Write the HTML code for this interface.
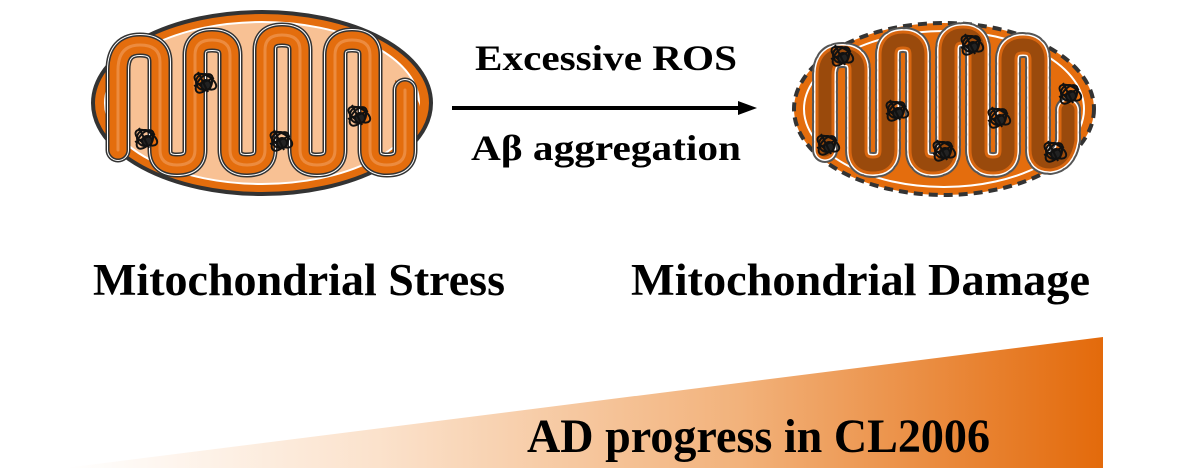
<!DOCTYPE html>
<html><head><meta charset="utf-8"><style>html,body{margin:0;padding:0;background:#fff;}svg{display:block}</style></head>
<body>
<svg width="1200" height="475" viewBox="0 0 1200 475" xmlns="http://www.w3.org/2000/svg" font-family="'Liberation Serif', serif" font-weight="bold">
<defs>
<linearGradient id="g" x1="65" y1="0" x2="1103" y2="0" gradientUnits="userSpaceOnUse">
<stop offset="0" stop-color="#fff"/><stop offset="0.3" stop-color="#fbe2cc"/><stop offset="0.65" stop-color="#f2b27b"/><stop offset="1" stop-color="#e36a0b"/></linearGradient>
<g id="blob" fill="none" stroke="#111" stroke-width="2">
<circle cx="0" cy="0" r="8"/><ellipse cx="1" cy="-1" rx="12" ry="6" transform="rotate(30)"/><ellipse cx="-1" cy="1" rx="11" ry="6" transform="rotate(-50)"/><circle cx="2" cy="3" r="5" fill="#222"/><path d="M-6,-10 L4,10 M-10,4 L10,-4"/></g>
<path id="lser" d="M118,150 L118,70 Q118,45 140,45 Q160,45 160,62 L160,150 Q160,165 177,165 Q195,165 195,150 L195,55 Q195,40 212,40 Q230,40 230,55 L230,150 Q230,165 247,165 Q265,165 265,150 L265,50 Q265,35 282,35 Q300,35 300,50 L300,150 Q300,165 317,165 Q335,165 335,150 L335,55 Q335,40 352,40 Q370,40 370,55 L370,150 Q370,165 387,165 Q405,165 405,150 L405,90"/>
<path id="rser" d="M825,150 L825,75 Q825,55 842,55 Q858,55 858,70 L858,150 Q858,165 873,165 Q888,165 888,150 L888,55 Q888,40 903,40 Q918,40 918,55 L918,150 Q918,165 933,165 Q948,165 948,150 L948,50 Q948,35 963,35 Q978,35 978,50 L978,150 Q978,165 993,165 Q1008,165 1008,150 L1008,60 Q1008,45 1023,45 Q1038,45 1038,60 L1038,150 Q1038,162 1050,162 Q1065,160 1068,140 L1068,110"/>
</defs>
<!-- left mito -->
<ellipse cx="262" cy="103" rx="169" ry="91" fill="#e46d0d" stroke="#333" stroke-width="4"/>
<ellipse cx="262" cy="103" rx="157" ry="81" fill="#f8c194" stroke="#fff" stroke-width="2"/>
<path d="M395,80 Q425,95 420,120 Q415,150 395,160 Z" fill="#e46d0d"/>
<g fill="none" stroke-linecap="round" stroke-linejoin="round">
<use href="#lser" stroke="#333" stroke-width="25"/>
<use href="#lser" stroke="#fff" stroke-width="22"/>
<use href="#lser" stroke="#333" stroke-width="20"/>
<use href="#lser" stroke="#e46d0d" stroke-width="17"/>
<use href="#lser" stroke="#f2a060" stroke-width="3" opacity="0.6"/>
</g>
<use href="#blob" x="145" y="138"/><use href="#blob" x="204" y="82"/><use href="#blob" x="280" y="140"/><use href="#blob" x="358" y="115"/>
<!-- right mito -->
<ellipse cx="944" cy="109" rx="150" ry="86" fill="#e46d0d" stroke="#333" stroke-width="4" stroke-dasharray="9 6"/>
<ellipse cx="944" cy="109" rx="140" ry="78" fill="#e46d0d" stroke="#fff" stroke-width="2"/>
<g fill="none" stroke-linecap="round" stroke-linejoin="round">
<use href="#rser" stroke="#555" stroke-width="26" stroke-dasharray="6 4"/>
<use href="#rser" stroke="#fff" stroke-width="22" stroke-dasharray="6 4"/>
<use href="#rser" stroke="#d76610" stroke-width="19"/>
<use href="#rser" stroke="#9a4a0c" stroke-width="13"/>
</g>
<use href="#blob" x="841" y="55"/><use href="#blob" x="971" y="44"/><use href="#blob" x="896" y="110"/><use href="#blob" x="998" y="117"/><use href="#blob" x="1069" y="93"/><use href="#blob" x="827" y="144"/><use href="#blob" x="943" y="150"/><use href="#blob" x="1054" y="151"/>
<!-- arrow -->
<line x1="452" y1="108" x2="740" y2="108" stroke="#000" stroke-width="4"/>
<polygon points="738,101 757,108 738,115" fill="#000"/>
<text x="606" y="70" font-size="36" text-anchor="middle" textLength="262" lengthAdjust="spacingAndGlyphs">Excessive ROS</text>
<text x="606" y="160" font-size="36" text-anchor="middle" textLength="270" lengthAdjust="spacingAndGlyphs">Aβ aggregation</text>
<text x="93" y="295" font-size="45" textLength="412" lengthAdjust="spacingAndGlyphs">Mitochondrial Stress</text>
<text x="631" y="295" font-size="45" textLength="459" lengthAdjust="spacingAndGlyphs">Mitochondrial Damage</text>
<polygon points="65,468 1103,337 1103,468" fill="url(#g)"/>
<text x="527" y="452" font-size="48" textLength="463" lengthAdjust="spacingAndGlyphs">AD progress in CL2006</text>
</svg>
</body></html>
